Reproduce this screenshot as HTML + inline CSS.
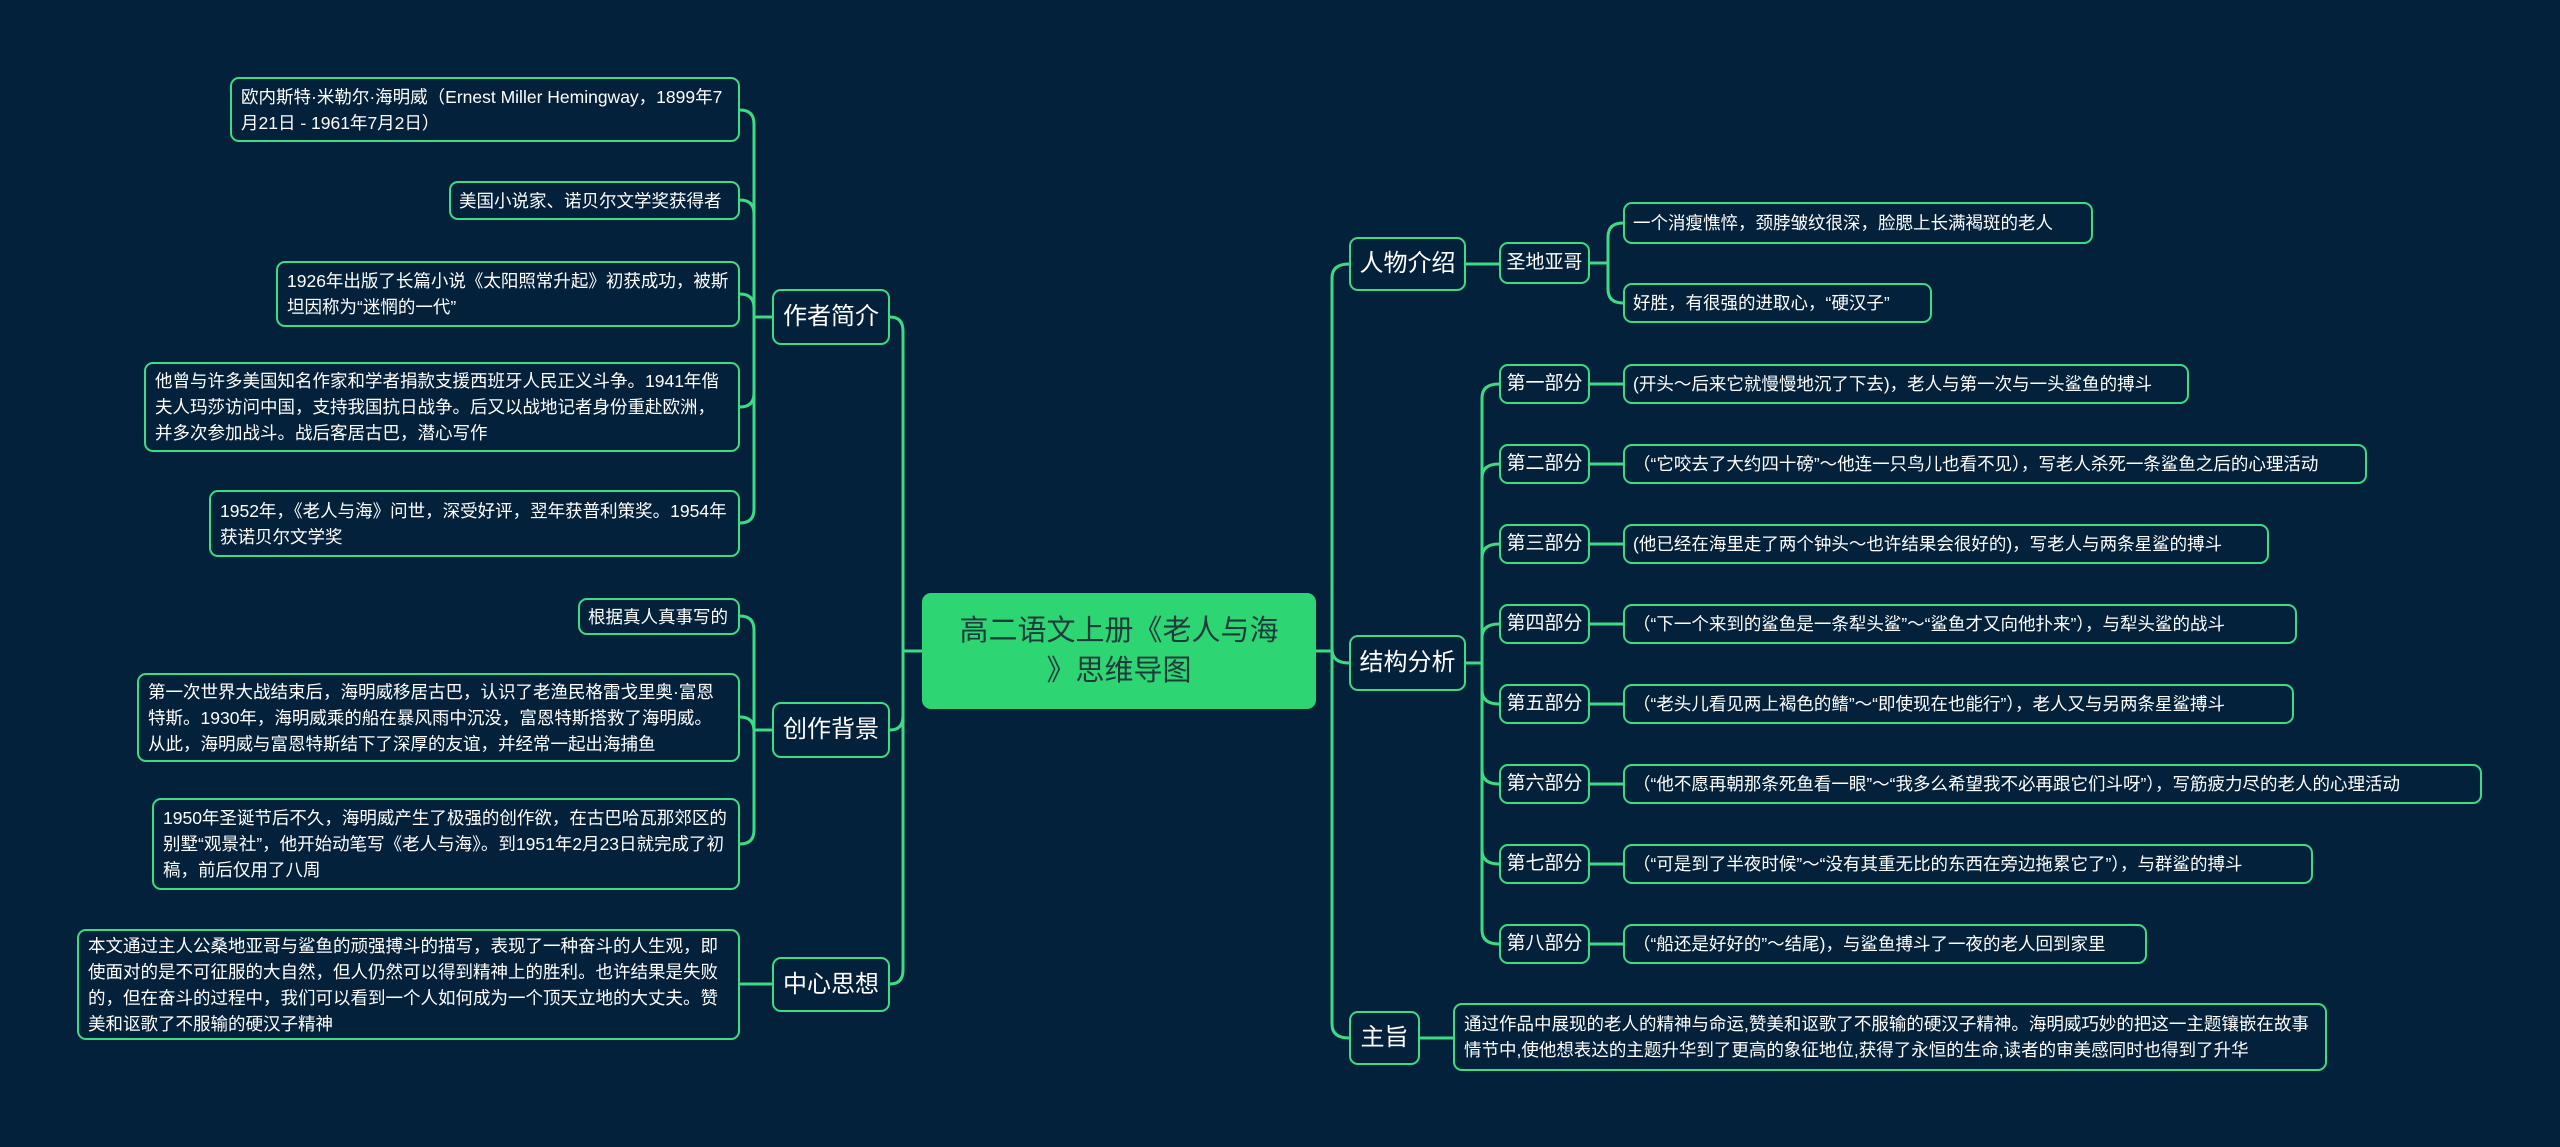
<!DOCTYPE html>
<html><head><meta charset="utf-8"><style>
body{margin:0;width:2560px;height:1147px;background:#03213b;overflow:hidden;position:relative;font-family:"Liberation Sans","Noto Sans CJK SC",sans-serif;}
.n{position:absolute;box-sizing:border-box;border:2px solid #3ddc84;border-radius:9px;background:#03213b;color:#fff;font-size:17.5px;line-height:26px;padding:6px 9px;display:flex;align-items:center;}
.one{white-space:nowrap;padding:0 8px;}
.m{font-size:24px;justify-content:center;padding:0;white-space:nowrap;}
.s{font-size:19px;justify-content:center;padding:0;white-space:nowrap;}
svg{position:absolute;left:0;top:0;}
</style></head><body>
<svg width="2560" height="1147" fill="none" stroke="#3ddc84" stroke-width="3">
<path d="M922 651H903V331Q903 317 890 317"/>
<path d="M922 651H903V716Q903 730 890 730"/>
<path d="M922 651H903V970Q903 984 890 984"/>
<path d="M772 317H754V124Q754 110 740 110"/>
<path d="M772 317H754V214Q754 200 740 200"/>
<path d="M772 317H754V308Q754 294 740 294"/>
<path d="M772 317H754V393Q754 407 740 407"/>
<path d="M772 317H754V509Q754 523 740 523"/>
<path d="M772 730H754V630Q754 616 740 616"/>
<path d="M772 730H754V731Q754 717 740 717"/>
<path d="M772 730H754V830Q754 844 740 844"/>
<path d="M772 984H740"/>
<path d="M1316 651H1332V278Q1332 264 1349 264"/>
<path d="M1316 651H1332V649Q1332 663 1349 663"/>
<path d="M1316 651H1332V1024Q1332 1038 1349 1038"/>
<path d="M1466 264H1499"/>
<path d="M1590 263H1608V237Q1608 223 1623 223"/>
<path d="M1590 263H1608V289Q1608 303 1623 303"/>
<path d="M1466 663H1482V398Q1482 384 1499 384"/>
<path d="M1466 663H1482V478Q1482 464 1499 464"/>
<path d="M1466 663H1482V558Q1482 544 1499 544"/>
<path d="M1466 663H1482V638Q1482 624 1499 624"/>
<path d="M1466 663H1482V690Q1482 704 1499 704"/>
<path d="M1466 663H1482V770Q1482 784 1499 784"/>
<path d="M1466 663H1482V850Q1482 864 1499 864"/>
<path d="M1466 663H1482V930Q1482 944 1499 944"/>
<path d="M1590 384H1623M1590 464H1623M1590 544H1623M1590 624H1623M1590 704H1623M1590 784H1623M1590 864H1623M1590 944H1623"/>
<path d="M1420 1038H1453"/>
</svg>

<div class="n" style="left:922px;top:593px;width:394px;height:116px;background:#2ed573;border-color:#2ed573;color:#1d3b3b;font-size:29px;line-height:40px;text-align:center;justify-content:center;padding:0 4px;white-space:nowrap;">高二语文上册《老人与海<br>》思维导图</div>

<div class="n m" style="left:772px;top:289px;width:118px;height:56px;">作者简介</div>
<div class="n m" style="left:772px;top:702px;width:118px;height:56px;">创作背景</div>
<div class="n m" style="left:772px;top:957px;width:118px;height:55px;">中心思想</div>

<div class="n" style="left:230px;top:77px;width:510px;height:65px;">欧内斯特·米勒尔·海明威（Ernest Miller Hemingway，1899年7月21日 - 1961年7月2日）</div>
<div class="n one" style="left:449px;top:181px;width:291px;height:39px;">美国小说家、诺贝尔文学奖获得者</div>
<div class="n" style="left:276px;top:261px;width:464px;height:66px;">1926年出版了长篇小说《太阳照常升起》初获成功，被斯坦因称为“迷惘的一代”</div>
<div class="n" style="left:144px;top:362px;width:596px;height:90px;">他曾与许多美国知名作家和学者捐款支援西班牙人民正义斗争。1941年偕夫人玛莎访问中国，支持我国抗日战争。后又以战地记者身份重赴欧洲，并多次参加战斗。战后客居古巴，潜心写作</div>
<div class="n" style="left:209px;top:490px;width:531px;height:67px;">1952年，《老人与海》问世，深受好评，翌年获普利策奖。1954年获诺贝尔文学奖</div>
<div class="n one" style="left:578px;top:598px;width:162px;height:37px;">根据真人真事写的</div>
<div class="n" style="left:137px;top:673px;width:603px;height:89px;">第一次世界大战结束后，海明威移居古巴，认识了老渔民格雷戈里奥·富恩特斯。1930年，海明威乘的船在暴风雨中沉没，富恩特斯搭救了海明威。从此，海明威与富恩特斯结下了深厚的友谊，并经常一起出海捕鱼</div>
<div class="n" style="left:152px;top:798px;width:588px;height:92px;">1950年圣诞节后不久，海明威产生了极强的创作欲，在古巴哈瓦那郊区的别墅“观景社”，他开始动笔写《老人与海》。到1951年2月23日就完成了初稿，前后仅用了八周</div>
<div class="n" style="left:77px;top:929px;width:663px;height:111px;">本文通过主人公桑地亚哥与鲨鱼的顽强搏斗的描写，表现了一种奋斗的人生观，即使面对的是不可征服的大自然，但人仍然可以得到精神上的胜利。也许结果是失败的，但在奋斗的过程中，我们可以看到一个人如何成为一个顶天立地的大丈夫。赞美和讴歌了不服输的硬汉子精神</div>

<div class="n m" style="left:1349px;top:237px;width:117px;height:54px;">人物介绍</div>
<div class="n m" style="left:1349px;top:635px;width:117px;height:56px;">结构分析</div>
<div class="n m" style="left:1349px;top:1011px;width:71px;height:54px;">主旨</div>

<div class="n s" style="left:1499px;top:242px;width:91px;height:42px;">圣地亚哥</div>
<div class="n one" style="left:1623px;top:202px;width:470px;height:42px;">一个消瘦憔悴，颈脖皱纹很深，脸腮上长满褐斑的老人</div>
<div class="n one" style="left:1623px;top:283px;width:309px;height:40px;">好胜，有很强的进取心，“硬汉子”</div>

<div class="n s" style="left:1499px;top:364px;width:91px;height:40px;">第一部分</div>
<div class="n s" style="left:1499px;top:444px;width:91px;height:40px;">第二部分</div>
<div class="n s" style="left:1499px;top:524px;width:91px;height:40px;">第三部分</div>
<div class="n s" style="left:1499px;top:604px;width:91px;height:40px;">第四部分</div>
<div class="n s" style="left:1499px;top:684px;width:91px;height:40px;">第五部分</div>
<div class="n s" style="left:1499px;top:764px;width:91px;height:40px;">第六部分</div>
<div class="n s" style="left:1499px;top:844px;width:91px;height:40px;">第七部分</div>
<div class="n s" style="left:1499px;top:924px;width:91px;height:40px;">第八部分</div>

<div class="n one" style="left:1623px;top:364px;width:566px;height:40px;">(开头～后来它就慢慢地沉了下去)，老人与第一次与一头鲨鱼的搏斗</div>
<div class="n one" style="left:1623px;top:444px;width:744px;height:40px;">（“它咬去了大约四十磅”～他连一只鸟儿也看不见），写老人杀死一条鲨鱼之后的心理活动</div>
<div class="n one" style="left:1623px;top:524px;width:646px;height:40px;">(他已经在海里走了两个钟头～也许结果会很好的)，写老人与两条星鲨的搏斗</div>
<div class="n one" style="left:1623px;top:604px;width:674px;height:40px;">（“下一个来到的鲨鱼是一条犁头鲨”～“鲨鱼才又向他扑来”），与犁头鲨的战斗</div>
<div class="n one" style="left:1623px;top:684px;width:671px;height:40px;">（“老头儿看见两上褐色的鳍”～“即使现在也能行”），老人又与另两条星鲨搏斗</div>
<div class="n one" style="left:1623px;top:764px;width:859px;height:40px;">（“他不愿再朝那条死鱼看一眼”～“我多么希望我不必再跟它们斗呀”），写筋疲力尽的老人的心理活动</div>
<div class="n one" style="left:1623px;top:844px;width:690px;height:40px;">（“可是到了半夜时候”～“没有其重无比的东西在旁边拖累它了”），与群鲨的搏斗</div>
<div class="n one" style="left:1623px;top:924px;width:524px;height:40px;">（“船还是好好的”～结尾)，与鲨鱼搏斗了一夜的老人回到家里</div>

<div class="n" style="left:1453px;top:1003px;width:874px;height:68px;">通过作品中展现的老人的精神与命运,赞美和讴歌了不服输的硬汉子精神。海明威巧妙的把这一主题镶嵌在故事情节中,使他想表达的主题升华到了更高的象征地位,获得了永恒的生命,读者的审美感同时也得到了升华</div>
</body></html>
